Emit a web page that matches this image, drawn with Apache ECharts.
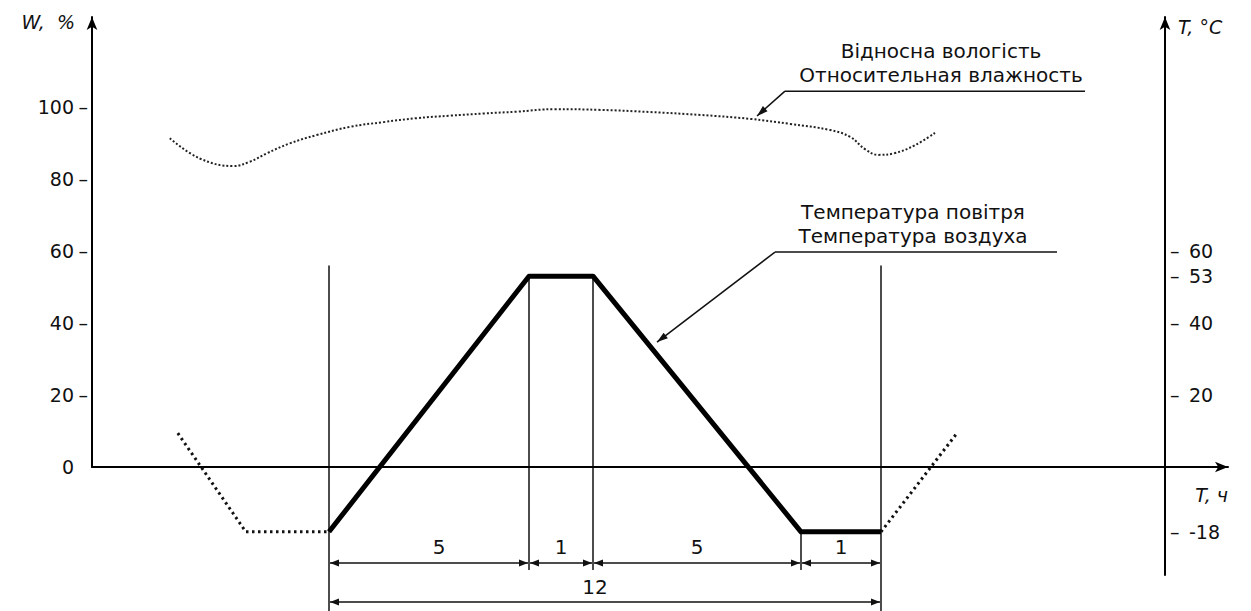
<!DOCTYPE html>
<html><head><meta charset="utf-8">
<script src="https://cdn.jsdelivr.net/npm/echarts@6/dist/echarts.min.js"></script>
<style>html,body{margin:0;padding:0;background:#fff}#c{width:1251px;height:611px}</style>
</head><body><div id="c"></div>
<script>
// ---- data ----
const wTicks = [0, 20, 40, 60, 80, 100];          // left axis, W %
const tTicks = [-18, 20, 40, 53, 60];             // right axis, T °C
// temperature programme (schematic time position, °C)
const tempX = [0, 5, 6.6, 11.8, 13.8];
const tempY = [-18, 53, 53, -18, -18];
const preX = [-3.78, -2.08, 0];
const preY = [9.4, -18, -18];
const postX = [13.8, 15.7];
const postY = [-18, 9.4];
// relative humidity (schematic time position, %)
const humX = [-3.98, -3.23, -2.39, -1.98, -1.56, -0.98, -0.31, 0.53, 1.36, 2.19, 3.03, 3.86, 4.69, 5.65, 6.78, 8.03, 9.28, 10.53, 11.53, 12.53, 13.03, 13.4, 13.73, 14.15, 14.65, 15.15];
const humY = [91.3, 85.7, 83.6, 84.8, 87.1, 89.9, 92.2, 94.5, 95.8, 96.9, 97.6, 98.2, 98.7, 99.4, 99.2, 98.6, 97.8, 96.7, 95.3, 93.6, 91.7, 88.3, 86.7, 87.2, 89.4, 92.8];
// phase boundaries and durations, h
const phaseBounds = [0, 5, 6.6, 11.8, 13.8];
const phaseHours = ['5', '1', '5', '1'];
const totalHours = '12';
const humLabel = ['Відносна вологість', 'Относительная влажность'];
const tempLabel = ['Температура повітря', 'Температура воздуха'];
const nameW = 'W,  %';
const nameT = 'T, °C';
const nameTime = 'T, ч';

// ---- layout ----
const X_MIN = -5.925, X_MAX = 22.475;
const FONT = '"DejaVu Sans", Verdana, sans-serif';
const FS = 19;
const FA = 20;
const INK = '#111';
const zip = (a, b) => a.map((v, i) => [v, b[i]]);

const chart = echarts.init(document.getElementById('c'), null, {renderer: 'svg'});
const axisLineStyle = {color: '#000', width: 2};
chart.setOption({
  animation: false,
  backgroundColor: '#fff',
  grid: [
    {left: 92, right: 23, top: 17, height: 558},
    {left: 92, right: 23, top: 17, height: 450}
  ],
  xAxis: [
    {gridIndex: 0, type: 'value', min: X_MIN, max: X_MAX,
     axisLine: {onZero: true, lineStyle: axisLineStyle, symbol: ['none', 'arrow'], symbolSize: [8, 13]},
     axisTick: {show: false}, axisLabel: {show: false}, splitLine: {show: false}},
    {gridIndex: 1, type: 'value', min: X_MIN, max: X_MAX, show: false}
  ],
  yAxis: [
    {gridIndex: 1, type: 'value', position: 'left', min: 0, max: 125, interval: 20,
     axisLine: {show: true, onZero: false, lineStyle: axisLineStyle, symbol: ['none', 'arrow'], symbolSize: [8, 13]},
     axisTick: {show: false}, splitLine: {show: false},
     axisLabel: {customValues: wTicks, margin: 4, color: INK, fontFamily: FONT, fontSize: FS,
       formatter: v => v === 0 ? '{v|0}{e| }' : '{v|' + v + '}{d|–}',
       rich: {v: {fontFamily: FONT, fontSize: FS, color: INK},
              d: {fontFamily: FONT, fontSize: FS, color: INK, width: 14, align: 'right'},
              e: {fontFamily: FONT, fontSize: FS, width: 14}}}},
    {gridIndex: 0, type: 'value', position: 'right', offset: -63, min: -30, max: 125, interval: 5,
     axisLine: {show: true, onZero: false, lineStyle: axisLineStyle, symbol: ['none', 'arrow'], symbolSize: [8, 13]},
     axisTick: {show: false}, splitLine: {show: false},
     axisLabel: {customValues: tTicks, margin: 5, color: INK, fontFamily: FONT, fontSize: FS,
       formatter: v => '{d|–}{v|' + v + '}',
       rich: {v: {fontFamily: FONT, fontSize: FS, color: INK},
              d: {fontFamily: FONT, fontSize: FS, color: INK, width: 19, align: 'left'}}}}
  ],
  series: [
    {name: 'Температура', type: 'line', xAxisIndex: 0, yAxisIndex: 1, data: zip(tempX, tempY),
     symbol: 'none', z: 5, lineStyle: {color: '#000', width: 5, join: 'round'}},
    {name: 'pre', type: 'line', xAxisIndex: 0, yAxisIndex: 1, data: zip(preX, preY),
     symbol: 'none', lineStyle: {color: '#111', width: 3, type: [2.5, 3.5]}},
    {name: 'post', type: 'line', xAxisIndex: 0, yAxisIndex: 1, data: zip(postX, postY),
     symbol: 'none', lineStyle: {color: '#111', width: 3, type: [2.5, 3.5]}},
    {name: 'Вологість', type: 'line', xAxisIndex: 1, yAxisIndex: 0, data: zip(humX, humY),
     symbol: 'none', smooth: 0.4, lineStyle: {color: '#222', width: 2, type: [2, 2]}}
  ]
});

// ---- annotations, positioned through the chart's own scales ----
const P = (t, T) => chart.convertToPixel({gridIndex: 0}, [t, T]);
const g = [];
const line = (a, b, w) => g.push({type: 'line', silent: true, shape: {x1: a[0], y1: a[1], x2: b[0], y2: b[1]}, style: {stroke: INK, lineWidth: w || 1.5}});
const head = (tip, from, len, half) => {
  const dx = tip[0] - from[0], dy = tip[1] - from[1], n = Math.hypot(dx, dy);
  const ux = dx / n, uy = dy / n, bx = tip[0] - ux * len, by = tip[1] - uy * len;
  g.push({type: 'polygon', silent: true, shape: {points: [tip, [bx - uy * half, by + ux * half], [bx + uy * half, by - ux * half]]}, style: {fill: INK}});
};
const text = (s, p, opts) => g.push({type: 'text', silent: true, x: p[0], y: p[1],
  style: Object.assign({text: s, font: FA + 'px ' + FONT, fill: INK, align: 'center', verticalAlign: 'middle'}, opts || {})});

// guide verticals
const GUIDE_TOP = 56, DIM_END = -28.6, BOTTOM = -40;
phaseBounds.forEach((t, i) => {
  const outer = (i === 0 || i === phaseBounds.length - 1);
  const top = outer ? GUIDE_TOP : tempY[tempX.indexOf(t)];
  line(P(t, top), P(t, outer ? BOTTOM : DIM_END), 1.5);
});
// dimension lines
const ROW1 = -26.7, ROW1_LBL = -22.2, ROW2 = -37.5, ROW2_LBL = -33.3;
const dim = (a, b, T) => {
  const pa = P(a, T), pb = P(b, T);
  pa[0] += 1; pb[0] -= 1;
  line(pa, pb, 1.5);
  head(pa, pb, 9, 3.5); head(pb, pa, 9, 3.5);
};
for (let i = 0; i < phaseHours.length; i++) {
  dim(phaseBounds[i], phaseBounds[i + 1], ROW1);
  text(phaseHours[i], P((phaseBounds[i] + phaseBounds[i + 1]) / 2 + (i === 0 ? 0.25 : 0), ROW1_LBL));
}
dim(phaseBounds[0], phaseBounds[phaseBounds.length - 1], ROW2);
text(totalHours, P(6.65, ROW2_LBL));

// callouts
const callout = (lbl, c1, c2, uL, uR, uT, tip) => {
  text(lbl[0], P(c1[0], c1[1])); text(lbl[1], P(c2[0], c2[1]));
  const a = P(uL, uT), b = P(uR, uT), tp = P(tip[0], tip[1]);
  line(a, b, 1.5); line(a, tp, 1.5); head(tp, a, 11, 3.5);
};
callout(humLabel, [15.3, 115.6], [15.3, 109.0], 11.4, 18.9, 104.4, [10.7, 97.5]);
callout(tempLabel, [14.6, 70.9], [14.6, 64.3], 11.15, 18.2, 59.7, [8.2, 34.7]);

// axis names
const lTop = chart.convertToPixel({gridIndex: 1}, [X_MIN, 125]);
const rTop = P(20.9, 125);
const xEnd = P(X_MAX, 0);
text(nameW, [lTop[0] - 17, lTop[1] + 5], {align: 'right', font: 'italic ' + FS + 'px ' + FONT});
text(nameT, [rTop[0] + 13, rTop[1] + 10], {align: 'left', font: 'italic ' + FS + 'px ' + FONT});
text(nameTime, [xEnd[0], xEnd[1] + 28], {align: 'right', font: 'italic ' + FS + 'px ' + FONT});

chart.setOption({graphic: g});
</script></body></html>
